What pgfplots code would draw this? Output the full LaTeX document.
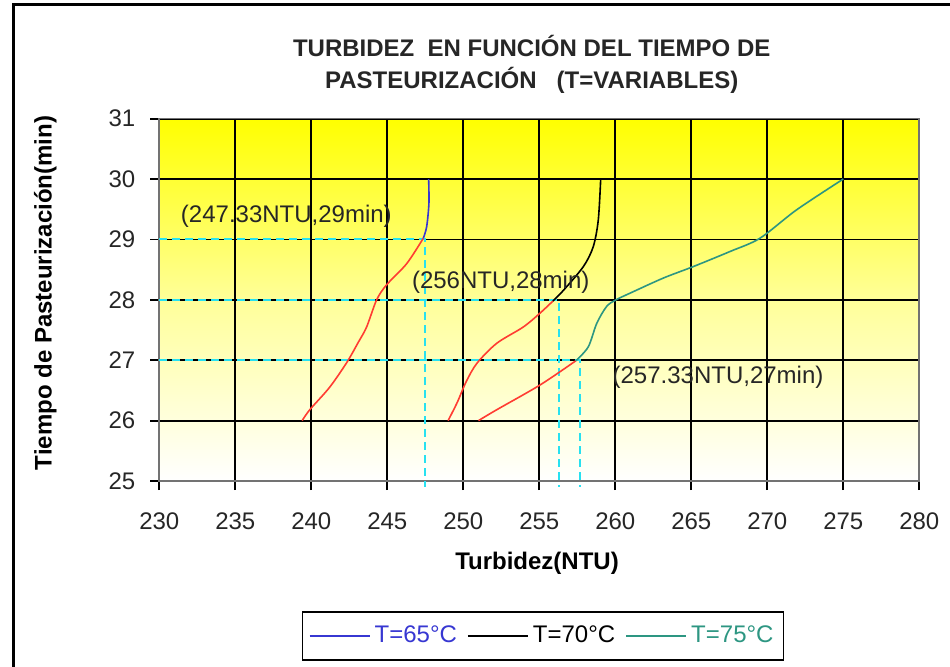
\documentclass[border=0pt]{standalone}
\usepackage{fontspec}
\setmainfont{Liberation Sans}
\usepackage{pgfplots}
\pgfplotsset{compat=1.18}
\definecolor{c65}{RGB}{55,55,210}
\definecolor{cred}{RGB}{255,60,50}
\definecolor{c75}{RGB}{45,150,130}
\definecolor{ccyan}{RGB}{40,225,240}
\definecolor{ylw}{RGB}{255,255,0}
\begin{document}
\begin{tikzpicture}
\useasboundingbox (0,0) rectangle (475pt,333pt);
\draw[line width=1.5pt] (6.5pt,-5pt) -- (6.5pt,330.5pt) -- (480pt,330.5pt);
\begin{axis}[
  at={(79.65pt,92.5pt)}, anchor=south west,
  scale only axis, width=380pt, height=181.2pt,
  xmin=230, xmax=280, ymin=25, ymax=31,
  xtick={230,235,...,280}, ytick={25,26,...,31},
  grid=major, major grid style={black, line width=0.9pt},
  axis line style={black!55, line width=0.8pt},
  tick align=outside, major tick length=4.5pt,
  tick style={black, line width=0.9pt},
  xtick pos=left, ytick pos=left,
  /pgf/number format/assume math mode=true,
  ticklabel style={font=\fontsize{12}{14}\selectfont, text=black!85},
  xticklabel shift=8pt, yticklabel shift=4pt,
  axis background/.style={top color=ylw, bottom color=white, middle color=ylw!40},
  title={TURBIDEZ\ \ EN FUNCIÓN DEL TIEMPO DE\\PASTEURIZACIÓN\ \ \ (T=VARIABLES)},
  title style={at={(0.49,1.118)}, anchor=center, align=center,
    font=\bfseries\fontsize{12}{16}\selectfont, text=black!85},
  xlabel={Turbidez(NTU)},
  xlabel style={at={(0.497,-0.226)}, anchor=center, font=\bfseries\fontsize{12}{14}\selectfont},
  ylabel={Tiempo de Pasteurización(min)},
  ylabel style={at={(-0.150,0.519)}, anchor=center, font=\bfseries\fontsize{12}{14}\selectfont},
  legend columns=3,
  legend style={at={(0.505,-0.428)}, anchor=center, draw=black, line width=0.8pt,
    font=\fontsize{12}{14}\selectfont, inner xsep=3pt, inner ysep=5pt,
    /tikz/every even column/.append style={column sep=3pt}},
  legend image code/.code={\draw[#1, line width=1pt] (0pt,0pt) -- (30pt,0pt);},
  clip=false,
]
% cyan guide lines
\addplot[ccyan, line width=1pt, dash pattern=on 4pt off 2.5pt, forget plot] coordinates {(230,29) (247.45,29) (247.45,24.9)};
\addplot[ccyan, line width=1pt, dash pattern=on 4pt off 2.5pt, forget plot] coordinates {(230,28) (256.3,28) (256.3,24.9)};
\addplot[ccyan, line width=1pt, dash pattern=on 4pt off 2.5pt, forget plot] coordinates {(230,27) (257.7,27) (257.7,24.9)};
% red lower segments
\addplot[cred, line width=0.8pt, smooth, forget plot] coordinates {
 (239.4,26.0) (239.9,26.18) (241.2,26.55) (242.33,26.96) (243.1,27.3) (243.64,27.55) (244.3,28.0) (244.96,28.25) (246.28,28.6) (247.37,29.02)};
\addplot[cred, line width=0.8pt, smooth, forget plot] coordinates {
 (249.0,26.0) (249.6,26.3) (250.2,26.65) (250.9,26.95) (252.2,27.28) (253.95,27.55) (255.05,27.78) (255.9,27.98)};
\addplot[cred, line width=0.8pt, smooth, forget plot] coordinates {
 (251.0,26.0) (252.2,26.18) (255.05,26.59) (257.4,26.99)};
% upper segments
\addplot[c65, line width=0.8pt, smooth] coordinates {
 (247.37,29.02) (247.59,29.21) (247.74,29.6) (247.72,30.0)};
\addlegendentry{\textcolor{c65}{T=65°C}}
\addplot[black, line width=0.8pt, smooth] coordinates {
 (255.9,27.98) (256.6,28.16) (257.9,28.55) (258.55,28.88) (258.88,29.32) (259.04,30.0)};
\addlegendentry{\textcolor{black}{T=70°C}}
\addplot[c75, line width=0.8pt, smooth] coordinates {
 (257.4,26.99) (258.22,27.22) (258.78,27.61) (259.43,27.89) (260.05,28.0) (260.97,28.11) (263.16,28.36) (265.13,28.55) (267.55,28.8) (269.52,29.02) (271.93,29.49) (275.0,30.0)};
\addlegendentry{\textcolor{c75}{T=75°C}}
% annotations
\node[anchor=west, inner sep=0pt, font=\fontsize{12}{14}\selectfont, text=black!85] at (axis cs:231.4,29.39) {(247.33NTU,29min)};
\node[anchor=west, inner sep=0pt, font=\fontsize{12}{14}\selectfont, text=black!85] at (axis cs:246.6,28.29) {(256NTU,28min)};
\node[anchor=west, inner sep=0pt, font=\fontsize{12}{14}\selectfont, text=black!85] at (axis cs:259.8,26.72) {(257.33NTU,27min)};
\end{axis}
\end{tikzpicture}
\end{document}
